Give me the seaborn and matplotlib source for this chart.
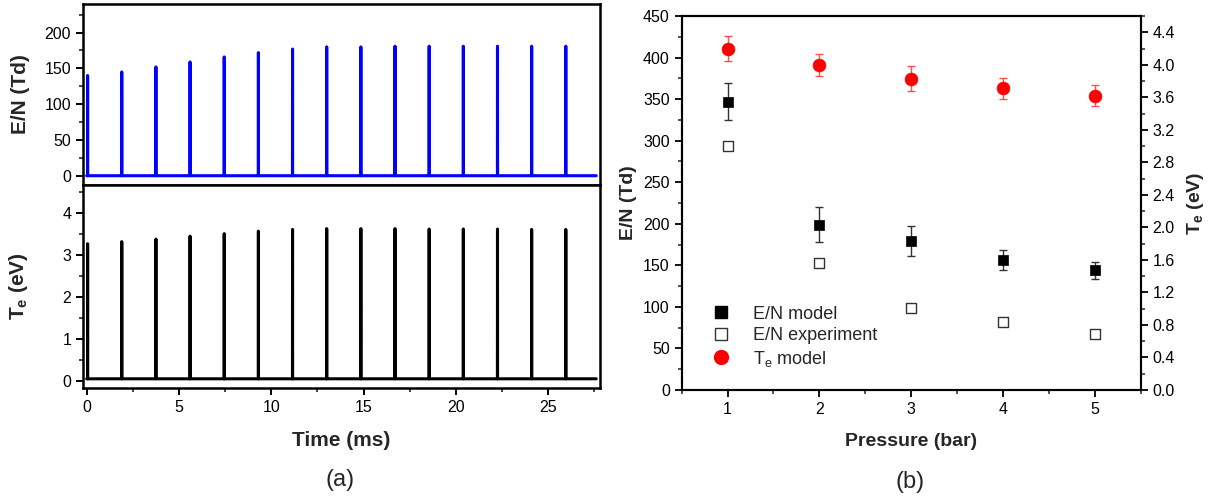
import numpy as np
import pandas as pd
import matplotlib
matplotlib.use("Agg")
import matplotlib.pyplot as plt
from matplotlib.lines import Line2D
from matplotlib.ticker import MultipleLocator, FormatStrFormatter
import seaborn as sns

# ---------------- data ----------------
# (a) pulse train
pulse_times = [0.05, 1.9, 3.75, 5.6, 7.45, 9.3, 11.15, 13.0, 14.85, 16.7,
               18.55, 20.4, 22.25, 24.1, 25.95]
en_peaks = [140, 145, 152, 159, 166, 172, 177, 180, 180, 181, 181, 181, 181, 181, 181]
te_peaks = [3.27, 3.32, 3.38, 3.45, 3.51, 3.57, 3.61, 3.63, 3.63, 3.63, 3.62, 3.62,
            3.62, 3.61, 3.61]
en_base = 0.0
te_base = 0.05
t_end = 27.6

# (b) pressure dependence
pressure = [1, 2, 3, 4, 5]
en_model = [347, 199, 179, 156, 144]
en_model_err = [22, 21, 18, 12, 10]
en_exp = [294, 153, 99, 82, 67]
te_model = [4.20, 4.00, 3.83, 3.71, 3.62]
te_model_err = [0.15, 0.135, 0.15, 0.125, 0.13]

# ---------------- style ----------------
sns.set_theme(style="ticks")
plt.rcParams['font.family'] = ['Liberation Sans', 'DejaVu Sans']
plt.rcParams['mathtext.fontset'] = 'custom'
plt.rcParams['mathtext.rm'] = 'Liberation Sans'
plt.rcParams['mathtext.bf'] = 'Liberation Sans:bold'
plt.rcParams['mathtext.it'] = 'Liberation Sans:italic'

fig = plt.figure(figsize=(12.15, 4.96), dpi=100)

def pulse_trace(times, peaks, base):
    xs, ys = [0.0], [base]
    for t, p in zip(times, peaks):
        xs += [t - 0.005, t, t + 0.005]
        ys += [base, p, base]
    xs.append(t_end)
    ys.append(base)
    return pd.DataFrame({"t": xs, "v": ys})

axA1 = fig.add_axes([0.0683, 0.627, 0.4255, 0.365])
axA2 = fig.add_axes([0.0683, 0.2177, 0.4255, 0.4093], sharex=axA1)

sns.lineplot(data=pulse_trace(pulse_times, en_peaks, en_base), x="t", y="v",
             ax=axA1, color="#0000ff", lw=2.2, estimator=None, sort=False)
sns.lineplot(data=pulse_trace(pulse_times, te_peaks, te_base), x="t", y="v",
             ax=axA2, color="black", lw=2.2, estimator=None, sort=False)

axA1.set_xlim(-0.2, 27.8)
axA1.set_ylim(-13, 240)
axA2.set_ylim(-0.17, 4.67)
axA1.yaxis.set_major_locator(MultipleLocator(50))
axA1.yaxis.set_minor_locator(MultipleLocator(25))
axA2.yaxis.set_major_locator(MultipleLocator(1))
axA2.yaxis.set_minor_locator(MultipleLocator(0.5))
axA2.xaxis.set_major_locator(MultipleLocator(5))
axA2.xaxis.set_minor_locator(MultipleLocator(2.5))
plt.setp(axA1.get_xticklabels(), visible=False)
axA1.set_xlabel("")
axA1.set_ylabel("E/N (Td)", fontsize=15, fontweight="bold")
axA2.set_ylabel(r"T$_\mathregular{e}$ (eV)", fontsize=15, fontweight="bold")
axA1.yaxis.set_label_coords(-0.103, 0.5)
axA2.yaxis.set_label_coords(-0.103, 0.5)
axA2.set_xlabel("Time (ms)", fontsize=15, fontweight="bold", labelpad=12)

for ax in (axA1, axA2):
    for s in ax.spines.values():
        s.set_visible(True)
        s.set_linewidth(1.8)
        s.set_color("black")
    ax.tick_params(axis="both", which="major", direction="out", length=5, width=1.4,
                   labelsize=11.5, colors="black", top=False, right=False)
    ax.tick_params(axis="both", which="minor", direction="out", length=3, width=1.2,
                   top=False, right=False)

# ---------------- (b) ----------------
axB = fig.add_axes([0.561, 0.2137, 0.378, 0.754])
axB2 = axB.twinx()

axB.errorbar(pressure, en_model, yerr=en_model_err, fmt="none", ecolor="#333333",
             elinewidth=1.0, capsize=3, capthick=1.0, zorder=2)
sns.scatterplot(x=pressure, y=en_model, ax=axB, marker="s", s=62, color="black",
                edgecolor="black", linewidth=0.5, zorder=3)
sns.scatterplot(x=pressure, y=en_exp, ax=axB, marker="s", s=52, facecolor="white",
                edgecolor="#333333", linewidth=1.0, zorder=3)

axB2.errorbar(pressure, te_model, yerr=te_model_err, fmt="none", ecolor="#ff5050",
              elinewidth=1.0, capsize=3, capthick=1.0, zorder=2)
sns.scatterplot(x=pressure, y=te_model, ax=axB2, marker="o", s=85, color="#ff0000",
                edgecolor="#ff0000", linewidth=0.5, zorder=3)

axB.set_xlim(0.5, 5.5)
axB.set_ylim(0, 450)
axB2.set_ylim(0, 4.6)
axB.xaxis.set_major_locator(MultipleLocator(1))
axB.xaxis.set_minor_locator(MultipleLocator(0.5))
axB.yaxis.set_major_locator(MultipleLocator(50))
axB.yaxis.set_minor_locator(MultipleLocator(25))
axB2.yaxis.set_major_locator(MultipleLocator(0.4))
axB2.yaxis.set_minor_locator(MultipleLocator(0.2))
axB2.yaxis.set_major_formatter(FormatStrFormatter("%.1f"))

axB.set_xlabel("Pressure (bar)", fontsize=14, fontweight="bold", labelpad=12)
axB.set_ylabel("E/N (Td)", fontsize=14, fontweight="bold")
axB2.set_ylabel(r"T$_\mathregular{e}$ (eV)", fontsize=14, fontweight="bold")
axB.yaxis.set_label_coords(-0.097, 0.5)
axB2.yaxis.set_label_coords(1.095, 0.5)

for ax in (axB, axB2):
    for s in ax.spines.values():
        s.set_visible(True)
        s.set_linewidth(1.5)
        s.set_color("black")
axB.tick_params(axis="both", which="major", direction="out", length=5, width=1.3,
                labelsize=11.5, colors="black", top=False, right=False)
axB.tick_params(axis="both", which="minor", direction="out", length=3, width=1.1,
                top=False, right=False)
axB2.tick_params(axis="y", which="major", direction="out", length=5, width=1.3,
                 labelsize=11.5, colors="black")
axB2.tick_params(axis="y", which="minor", direction="out", length=3, width=1.1)

handles = [
    Line2D([], [], ls="none", marker="s", ms=8, mfc="black", mec="black"),
    Line2D([], [], ls="none", marker="s", ms=8, mfc="white", mec="#333333"),
    Line2D([], [], ls="none", marker="o", ms=10, mfc="#ff0000", mec="#ff0000"),
]
labels = ["E/N model", "E/N experiment", r"T$_\mathregular{e}$ model"]
axB.legend(handles, labels, loc="upper left", bbox_to_anchor=(0.03, 0.245),
           frameon=False, fontsize=13, handletextpad=0.8, labelspacing=0.25,
           borderaxespad=0.0)

fig.text(340 / 1215, 1 - 480 / 496, "(a)", fontsize=17, ha="center", va="center")
fig.text(910 / 1215, 1 - 482 / 496, "(b)", fontsize=17, ha="center", va="center")

fig.savefig("out.png", dpi=100)
